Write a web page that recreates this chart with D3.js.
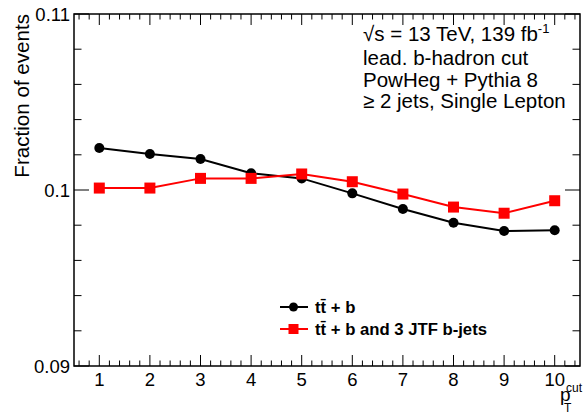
<!DOCTYPE html>
<html><head><meta charset="utf-8">
<script src="https://cdn.jsdelivr.net/npm/d3@7"></script>
<style>body{margin:0;background:#fff}svg{display:block}text{font-family:"Liberation Sans",Arial,sans-serif}</style>
</head><body><svg id="c" width="584" height="414"></svg>
<script>
const xCats = [1,2,3,4,5,6,7,8,9,10];
const ttb = [0.10239,0.10205,0.10176,0.10095,0.10066,0.09981,0.09892,0.09814,0.09767,0.09771];
const ttb3 = [0.10011,0.10011,0.10066,0.10066,0.10091,0.10047,0.09977,0.09903,0.09868,0.09939];
const yTickLabels = ["0.09","0.1","0.11"];
const legendLabels = ["tt\u0304 + b","tt\u0304 + b and 3 JTF b-jets"];
const infoLines = ["13 TeV, 139 fb","lead. b-hadron cut","PowHeg + Pythia 8","\u2265 2 jets, Single Lepton"];

const svg = d3.select("#c");
const L=74,R=580,T=14,B=366;
const x = d3.scaleLinear().domain([0.5,10.5]).range([L,R]);
const y = d3.scaleLinear().domain([0.09,0.11]).range([B,T]);

const g = svg.append("g");
g.append("rect").attr("x",L).attr("y",T).attr("width",R-L).attr("height",B-T)
 .attr("fill","none").attr("stroke","#000").attr("stroke-width",1.5);

const xMinor = d3.range(6,106,2).map(d=>d/10).filter(d=>Math.abs(d-Math.round(d))>1e-6);
function tickLines(vals,len,isX){
  vals.forEach(v=>{
    if(isX){
      const px=x(v);
      g.append("line").attr("x1",px).attr("x2",px).attr("y1",B).attr("y2",B-len).attr("stroke","#000");
      g.append("line").attr("x1",px).attr("x2",px).attr("y1",T).attr("y2",T+len).attr("stroke","#000");
    } else {
      const py=y(v);
      g.append("line").attr("x1",L).attr("x2",L+len).attr("y1",py).attr("y2",py).attr("stroke","#000");
      g.append("line").attr("x1",R).attr("x2",R-len).attr("y1",py).attr("y2",py).attr("stroke","#000");
    }
  });
}
tickLines(xCats,11,true);
tickLines(xMinor,5.5,true);
tickLines([0.09,0.1,0.11],15,false);
tickLines(d3.range(1,10).filter(i=>i!==5).map(i=>0.09+i*0.002),7.5,false);

g.selectAll(".xl").data(xCats).join("text").attr("x",d=>x(d)).attr("y",386)
 .attr("text-anchor","middle").attr("font-size",18.5).text(d=>d);
g.selectAll(".yl").data([0.09,0.1,0.11]).join("text").attr("x",L-4).attr("y",d=>y(d)+7)
 .attr("text-anchor","end").attr("font-size",18.5).text((d,i)=>yTickLabels[i]);

g.append("text").attr("transform",`translate(29,${T}) rotate(-90)`).attr("text-anchor","end")
 .attr("font-size",20.6).text("Fraction of events");
g.append("text").attr("x",560).attr("y",401).attr("font-size",19).text("p");
g.append("text").attr("x",564).attr("y",412).attr("font-size",12).text("T");
g.append("text").attr("x",566).attr("y",392).attr("font-size",12).text("cut");

const line = d3.line().x((d,i)=>x(xCats[i])).y(d=>y(d));
g.append("path").datum(ttb).attr("d",line).attr("fill","none").attr("stroke","#000").attr("stroke-width",2);
g.append("path").datum(ttb3).attr("d",line).attr("fill","none").attr("stroke","#ff0000").attr("stroke-width",2);
g.selectAll(".c").data(ttb).join("circle").attr("cx",(d,i)=>x(xCats[i])).attr("cy",d=>y(d)).attr("r",5).attr("fill","#000");
g.selectAll(".s").data(ttb3).join("rect").attr("x",(d,i)=>x(xCats[i])-5.5).attr("y",d=>y(d)-5.5)
 .attr("width",11).attr("height",11).attr("fill","#ff0000");

const ix=363, fs=20.5;
const t1 = g.append("text").attr("x",ix).attr("y",41).attr("font-size",fs);
t1.append("tspan").text("\u221As = ");
t1.append("tspan").text(infoLines[0]);
t1.append("tspan").attr("font-size",13).attr("dy",-8).text("-1");
[64.5,86.5,107.5].forEach((yy,i)=>{
  g.append("text").attr("x",ix).attr("y",yy).attr("font-size",fs).text(infoLines[i+1]);
});

const ly=[307,329];
[0,1].forEach(i=>{
  const col = i===0?"#000":"#ff0000";
  g.append("line").attr("x1",280).attr("x2",308).attr("y1",ly[i]).attr("y2",ly[i]).attr("stroke",col).attr("stroke-width",2);
  if(i===0) g.append("circle").attr("cx",293.5).attr("cy",ly[i]).attr("r",4.5).attr("fill",col);
  else g.append("rect").attr("x",288.5).attr("y",ly[i]-5).attr("width",10).attr("height",10).attr("fill",col);
  g.append("text").attr("x",315).attr("y",ly[i]+5.5).attr("font-size",16.7).attr("font-weight","bold").text(legendLabels[i]);
});
</script></body></html>
